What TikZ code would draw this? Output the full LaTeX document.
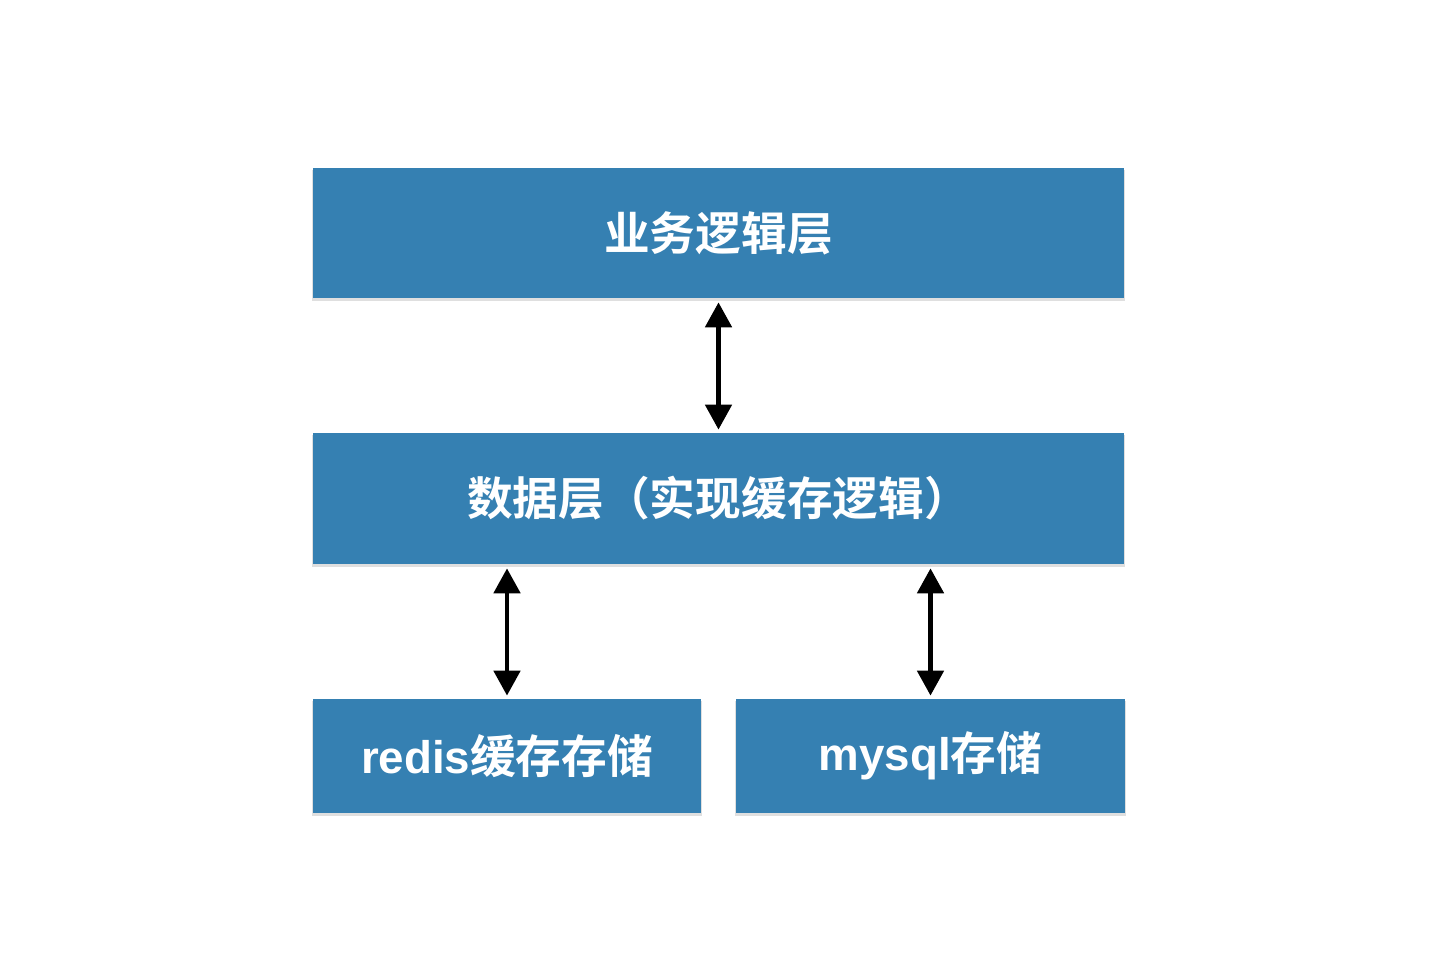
\documentclass[tikz,border=0pt]{standalone}
\usepackage{fontspec}
\newfontfamily\cjk{Noto Sans CJK SC}[BoldFont={* Bold}]
\newfontfamily\latin{Liberation Sans}
\usetikzlibrary{arrows.meta,shadows}
\definecolor{layerblue}{HTML}{3580B2}
\tikzset{
	layer/.style = {fill = layerblue, text = white, font = \cjk\bfseries\fontsize{26pt}{30pt}\selectfont, inner sep = 0pt, drop shadow = {opacity = 0.25, shadow xshift = 0pt, shadow yshift = -1.5pt, shadow scale = 1.003}},
	link/.style = {line width = 2.8pt, {Triangle[width=0.52cm,length=0.5cm]}-{Triangle[width=0.52cm,length=0.5cm]}, shorten < = 0.08cm, shorten > = 0.06cm}
}
\begin{document}
\begin{tikzpicture}
			\useasboundingbox (0,0) rectangle (28.8,19.32);
			\node (biz)[layer, minimum width = 16.22cm, minimum height = 2.6cm]at (14.37,14.66)  {业务逻辑层};
			\node (data)[layer, minimum width = 16.22cm, minimum height = 2.62cm]at (14.37,9.35)  {数据层（实现缓存逻辑）};
			\node (redis)[layer, minimum width = 7.76cm, minimum height = 2.28cm]at (10.14,4.2)  {{\latin\bfseries redis}缓存存储};
			\node (mysql)[layer, minimum width = 7.78cm, minimum height = 2.28cm]at (18.61,4.2)  {{\latin\bfseries mysql}存储};

			\draw[link] (biz.south)--(data.north);
			\draw[link] (redis.north |- data.south)--(redis.north);
			\draw[link] (mysql.north |- data.south)--(mysql.north);
		\end{tikzpicture}
\end{document}
